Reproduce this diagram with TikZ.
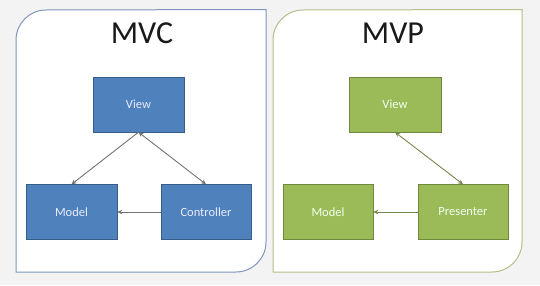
\documentclass[tikz,border=0pt]{standalone}
\usepackage{fontspec}
\setmainfont{Carlito}
\usepackage{tikz}
\usetikzlibrary{arrows.meta,positioning,calc}
\usepackage{xcolor}
\definecolor{mvcfill}{HTML}{4F81BD}
\definecolor{mvcdraw}{HTML}{385D8A}
\definecolor{mvpfill}{HTML}{9BBB59}
\definecolor{mvpdraw}{HTML}{71893F}
\definecolor{mvcframe}{HTML}{7F95BB}
\definecolor{mvpframe}{HTML}{B5BE8A}
\definecolor{pagegray}{HTML}{F3F3F3}

\begin{document}
\begin{tikzpicture}[
  x=1pt,y=1pt,
  mvcbox/.style={rectangle,draw=mvcdraw,fill=mvcfill,minimum width=91pt,minimum height=55pt,text=blue!8,font=\fontsize{12.5}{14}\selectfont},
  mvpbox/.style={rectangle,draw=mvpdraw,fill=mvpfill,minimum width=90pt,minimum height=55pt,text=green!5,font=\fontsize{12.5}{14}\selectfont},
  title/.style={font=\fontsize{32}{36}\selectfont,text=black!90},
  mvcline/.style={draw=black!55,line width=0.9pt},
  mvpline/.style={draw=mvpdraw!80!gray,line width=0.9pt},
  >={Stealth[length=5pt,width=4.5pt]}
]
  % Page
  \fill[pagegray] (0,0) rectangle (540,285);
  \useasboundingbox (0,0) rectangle (540,285);

  % Frames
  \draw[fill=white,draw=mvcframe,line width=1pt] (16,13) -- (16,245) arc[start angle=180,end angle=90,radius=30]
    -- (266,275.5) -- (266,43) arc[start angle=0,end angle=-90,radius=30] -- cycle;
  \draw[fill=white,draw=mvpframe,line width=1pt] (273,13) -- (273,245) arc[start angle=180,end angle=90,radius=30]
    -- (522,275.5) -- (522,43) arc[start angle=0,end angle=-90,radius=30] -- cycle;

  % Titles
  \node[title] (mvc) at (142,252) {MVC};
  \node[title] (mvp) at (393,252) {MVP};

  % MVC boxes
  \node[mvcbox] (view) at (138.5,180.5) {View};
  \node[mvcbox] (model) at (71.5,73) {Model};
  \node[mvcbox,minimum width=90pt] (controller) at (206,73) {Controller};

  % MVP boxes
  \node[mvpbox,minimum width=92pt] (pview) at (395,180.5) {View};
  \node[mvpbox] (pmodel) at (328,73) {Model};
  \node[mvpbox] (presenter) at (463,73) {Presenter};

  % Arrows
  \draw[mvcline,->] (view.south) -- (model.north);
  \draw[mvcline,<->] (view.south) -- (controller.north);
  \draw[mvcline,->] (controller) -- (model);
  \draw[mvpline,<->] (pview.south) -- (presenter.north);
  \draw[mvpline,->] (presenter) -- (pmodel);
\end{tikzpicture}
\end{document}
